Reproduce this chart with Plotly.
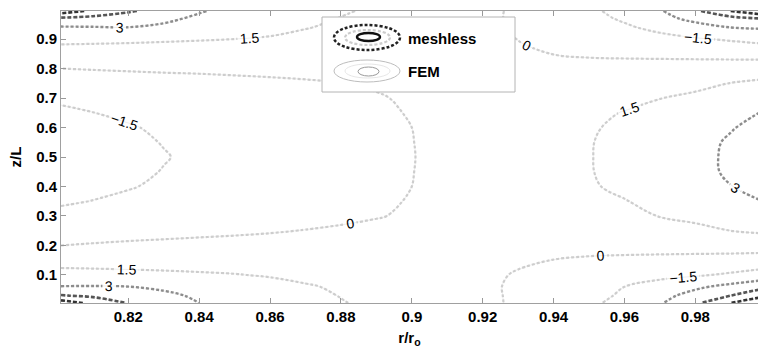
import plotly.graph_objects as go

# radial positions r/r_o of the sampled grid
R_VALUES = [0.801, 0.81, 0.82, 0.83, 0.84, 0.85, 0.86, 0.87, 0.88, 0.89, 0.90,
            0.91, 0.92, 0.93, 0.94, 0.95, 0.96, 0.97, 0.98, 0.99, 0.998]
# axial positions z/L of the sampled grid
Z_VALUES = [0.005, 0.03, 0.06, 0.1, 0.15, 0.2, 0.25, 0.3, 0.35, 0.4, 0.45, 0.5,
            0.55, 0.6, 0.65, 0.7, 0.75, 0.8, 0.85, 0.9, 0.94, 0.97, 0.995]

# field values, one row per z/L position
ROW_Z005 = [6.8, 5.63, 4.43, 3.71, 3.0, 2.64, 2.29, 1.93, 1.57, 1.23, 0.9, 0.57, 0.23, -0.16, -0.70, -1.23, -1.95, -2.86, -4.21, -6.0, -7.2]
ROW_Z030 = [4.6, 4.21, 3.73, 3.24, 2.83, 2.48, 2.14, 1.80, 1.46, 1.14, 0.83, 0.52, 0.21, -0.16, -0.64, -1.12, -1.68, -2.56, -3.5, -4.5, -5.56]
ROW_Z060 = [3.05, 3.08, 3.02, 2.80, 2.51, 2.21, 1.92, 1.62, 1.33, 1.04, 0.76, 0.47, 0.19, -0.16, -0.60, -1.05, -1.5, -2.12, -2.74, -3.42, -4.0]
ROW_Z100 = [2.0, 1.92, 1.82, 1.73, 1.64, 1.55, 1.40, 1.19, 0.98, 0.78, 0.57, 0.36, 0.16, -0.06, -0.32, -0.58, -0.83, -1.09, -1.35, -1.69, -2.06]
ROW_Z150 = [0.94, 0.95, 0.96, 0.96, 0.95, 0.93, 0.88, 0.80, 0.68, 0.55, 0.42, 0.30, 0.20, 0.10, -0.01, -0.10, -0.18, -0.26, -0.35, -0.45, -0.58]
ROW_Z200 = [0.0, 0.09, 0.18, 0.24, 0.30, 0.35, 0.40, 0.43, 0.45, 0.39, 0.30, 0.22, 0.17, 0.16, 0.20, 0.27, 0.33, 0.40, 0.47, 0.54, 0.6]
ROW_Z250 = [-0.58, -0.5, -0.42, -0.33, -0.25, -0.17, -0.08, 0.03, 0.15, 0.22, 0.22, 0.20, 0.20, 0.24, 0.35, 0.50, 0.68, 0.90, 1.18, 1.5, 1.67]
ROW_Z300 = [-1.25, -1.15, -1.03, -0.88, -0.75, -0.62, -0.50, -0.37, -0.23, -0.05, 0.12, 0.27, 0.42, 0.60, 0.80, 1.03, 1.28, 1.53, 1.80, 2.08, 2.31]
ROW_Z350 = [-1.62, -1.48, -1.31, -1.15, -0.98, -0.81, -0.64, -0.47, -0.30, -0.14, 0.05, 0.28, 0.52, 0.75, 0.98, 1.22, 1.45, 1.83, 2.24, 2.65, 2.97]
ROW_Z400 = [-1.95, -1.75, -1.56, -1.35, -1.16, -0.97, -0.77, -0.58, -0.38, -0.19, 0.0, 0.28, 0.56, 0.83, 1.10, 1.38, 1.73, 2.14, 2.56, 2.98, 3.24]
ROW_Z450 = [-2.05, -1.87, -1.67, -1.47, -1.27, -1.06, -0.85, -0.64, -0.43, -0.22, -0.02, 0.28, 0.57, 0.86, 1.15, 1.44, 1.85, 2.28, 2.72, 3.13, 3.4]
ROW_Z500 = [-2.1, -1.93, -1.74, -1.54, -1.34, -1.12, -0.90, -0.68, -0.46, -0.24, -0.03, 0.26, 0.56, 0.86, 1.15, 1.45, 1.86, 2.30, 2.74, 3.14, 3.45]
ROW_Z550 = [-2.04, -1.86, -1.66, -1.47, -1.27, -1.06, -0.85, -0.64, -0.43, -0.22, -0.02, 0.28, 0.57, 0.86, 1.15, 1.44, 1.84, 2.27, 2.70, 3.11, 3.38]
ROW_Z600 = [-1.92, -1.76, -1.57, -1.36, -1.17, -0.98, -0.78, -0.59, -0.39, -0.2, 0.0, 0.28, 0.56, 0.83, 1.10, 1.38, 1.72, 2.12, 2.53, 2.94, 3.25]
ROW_Z650 = [-1.66, -1.51, -1.34, -1.17, -1.0, -0.82, -0.65, -0.48, -0.31, -0.14, 0.05, 0.30, 0.54, 0.79, 1.03, 1.28, 1.54, 1.92, 2.31, 2.69, 3.0]
ROW_Z700 = [-1.35, -1.22, -1.07, -0.92, -0.78, -0.64, -0.51, -0.37, -0.23, -0.07, 0.12, 0.28, 0.44, 0.60, 0.79, 1.00, 1.23, 1.47, 1.74, 2.05, 2.36]
ROW_Z750 = [-0.62, -0.58, -0.52, -0.46, -0.40, -0.32, -0.24, -0.14, -0.01, 0.10, 0.15, 0.18, 0.20, 0.25, 0.35, 0.50, 0.67, 0.90, 1.18, 1.52, 1.73]
ROW_Z800 = [0.0, 0.06, 0.12, 0.18, 0.22, 0.28, 0.34, 0.40, 0.43, 0.38, 0.30, 0.22, 0.17, 0.16, 0.20, 0.28, 0.36, 0.45, 0.54, 0.64, 0.75]
ROW_Z850 = [0.87, 0.90, 0.92, 0.93, 0.93, 0.92, 0.88, 0.80, 0.68, 0.55, 0.42, 0.30, 0.20, 0.10, -0.01, -0.10, -0.17, -0.24, -0.32, -0.41, -0.5]
ROW_Z900 = [1.86, 1.79, 1.72, 1.64, 1.57, 1.50, 1.38, 1.18, 0.97, 0.77, 0.57, 0.36, 0.15, -0.01, -0.28, -0.55, -0.82, -1.10, -1.38, -1.66, -1.91]
ROW_Z940 = [2.9, 2.95, 3.0, 2.84, 2.52, 2.20, 1.88, 1.56, 1.29, 1.02, 0.75, 0.48, 0.21, -0.08, -0.49, -0.90, -1.32, -1.85, -2.49, -3.03, -3.16]
ROW_Z970 = [4.26, 4.0, 3.6, 3.2, 2.84, 2.49, 2.14, 1.78, 1.46, 1.14, 0.83, 0.52, 0.21, -0.15, -0.63, -1.10, -1.68, -2.56, -3.4, -4.0, -4.5]
ROW_Z995 = [6.8, 5.7, 4.7, 3.87, 3.08, 2.69, 2.34, 1.99, 1.64, 1.29, 0.94, 0.59, 0.24, -0.16, -0.70, -1.23, -1.95, -2.86, -4.21, -6.0, -7.1]

FIELD = [ROW_Z005, ROW_Z030, ROW_Z060, ROW_Z100, ROW_Z150, ROW_Z200, ROW_Z250,
         ROW_Z300, ROW_Z350, ROW_Z400, ROW_Z450, ROW_Z500, ROW_Z550, ROW_Z600,
         ROW_Z650, ROW_Z700, ROW_Z750, ROW_Z800, ROW_Z850, ROW_Z900, ROW_Z940,
         ROW_Z970, ROW_Z995]

X_TICKS = [0.82, 0.84, 0.86, 0.88, 0.90, 0.92, 0.94, 0.96, 0.98]
X_TICK_TEXT = ["0.82", "0.84", "0.86", "0.88", "0.9", "0.92", "0.94", "0.96", "0.98"]
Y_TICKS = [0.1, 0.2, 0.3, 0.4, 0.5, 0.6, 0.7, 0.8, 0.9]
Y_TICK_TEXT = ["0.1", "0.2", "0.3", "0.4", "0.5", "0.6", "0.7", "0.8", "0.9"]

LEGEND_LABELS = ["meshless", "FEM"]

FONT = "Liberation Sans, Arial, sans-serif"
LABEL_FONT = dict(family=FONT, size=14, color="black")


def level_trace(start, end, size, color, width, dash, labels=True):
    return go.Contour(
        x=R_VALUES, y=Z_VALUES, z=FIELD,
        showscale=False, hoverinfo="skip",
        contours=dict(start=start, end=end, size=size, coloring="none",
                      showlabels=labels, labelfont=LABEL_FONT),
        line=dict(color=color, width=width, dash=dash, smoothing=1.0),
    )


fig = go.Figure()
# FEM solution: thin solid iso-lines underneath
fig.add_trace(level_trace(-6, 6, 1.5, "#e2e2e2", 0.6, "solid", labels=False))
# meshless solution: dotted iso-lines, darker for larger magnitude
fig.add_trace(level_trace(-1.5, 1.5, 1.5, "#cdcdcd", 2.2, "3px,2px"))
fig.add_trace(level_trace(-3, 3, 6, "#8c8c8c", 2.4, "3px,2px"))
fig.add_trace(level_trace(-4.5, 4.5, 9, "#555555", 2.6, "4px,2px"))
fig.add_trace(level_trace(-6, 6, 12, "#333333", 2.6, "4px,2px"))

# plot area in pixels: x 61..758, y 11..303
def px(xp):
    return (xp - 61) / 697.0


def py(yp):
    return (303 - yp) / 292.0


shapes = [
    # legend frame
    dict(type="rect", xref="paper", yref="paper", x0=px(322), x1=px(515), y0=py(92), y1=py(17),
         fillcolor="white", line=dict(color="#b4b4b4", width=1), layer="above"),
    # meshless icon
    dict(type="circle", xref="paper", yref="paper", x0=px(334), x1=px(400), y0=py(50), y1=py(25),
         line=dict(color="#222222", width=2.5, dash="3px,2px"), layer="above"),
    dict(type="circle", xref="paper", yref="paper", x0=px(345), x1=px(390), y0=py(45), y1=py(30),
         line=dict(color="#cccccc", width=2.2, dash="3px,2px"), layer="above"),
    dict(type="circle", xref="paper", yref="paper", x0=px(357), x1=px(380), y0=py(41), y1=py(33),
         line=dict(color="#111111", width=2.4), layer="above"),
    # FEM icon
    dict(type="circle", xref="paper", yref="paper", x0=px(334), x1=px(400), y0=py(82), y1=py(60),
         line=dict(color="#bdbdbd", width=1), layer="above"),
    dict(type="circle", xref="paper", yref="paper", x0=px(345), x1=px(390), y0=py(78), y1=py(64),
         line=dict(color="#e0e0e0", width=0.8), layer="above"),
    dict(type="circle", xref="paper", yref="paper", x0=px(358), x1=px(379), y0=py(76), y1=py(67),
         line=dict(color="#9a9a9a", width=1), layer="above"),
]

annotations = [
    dict(text=LEGEND_LABELS[0], xref="paper", yref="paper", x=px(406), y=py(38),
         xanchor="left", yanchor="middle", showarrow=False,
         font=dict(family=FONT, size=15, color="black", weight="bold")),
    dict(text=LEGEND_LABELS[1], xref="paper", yref="paper", x=px(406), y=py(72),
         xanchor="left", yanchor="middle", showarrow=False,
         font=dict(family=FONT, size=15, color="black", weight="bold")),
]

axis_font = dict(family=FONT, size=15, color="black", weight="bold")

fig.update_layout(
    width=758, height=350,
    margin=dict(l=61, r=0, t=11, b=47),
    paper_bgcolor="white", plot_bgcolor="white",
    showlegend=False,
    shapes=shapes,
    annotations=annotations,
    xaxis=dict(range=[0.801, 0.9977], tickvals=X_TICKS, ticktext=X_TICK_TEXT,
               ticks="inside", ticklen=5, tickcolor="#999999",
               showline=True, linecolor="#a0a0a0", linewidth=1, mirror="ticks",
               showgrid=False, zeroline=False, tickfont=axis_font,
               title=dict(text="r/r<sub>o</sub>", font=axis_font, standoff=8)),
    yaxis=dict(range=[0.005, 0.995], tickvals=Y_TICKS, ticktext=Y_TICK_TEXT,
               ticks="inside", ticklen=5, tickcolor="#999999",
               showline=True, linecolor="#a0a0a0", linewidth=1, mirror=False,
               showgrid=False, zeroline=False, tickfont=axis_font,
               title=dict(text="z/L", font=axis_font, standoff=10)),
)

fig.write_html("out.html")
